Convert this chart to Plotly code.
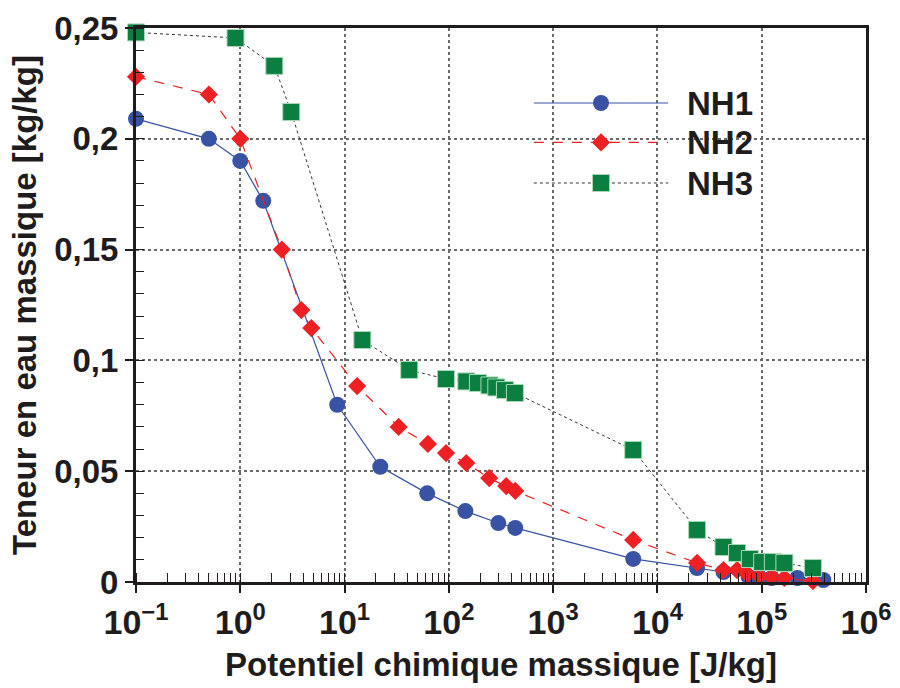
import plotly.graph_objects as go

# ---------------- data ----------------
nh1_x = [0.1, 0.5, 1.0, 1.66, 8.5, 22, 62, 144, 298, 433, 5860, 24000, 43000, 75000, 95000, 125000, 220000, 390000]
nh1_y = [0.209, 0.200, 0.190, 0.172, 0.080, 0.052, 0.040, 0.032, 0.0266, 0.0244, 0.0104, 0.0063, 0.0045, 0.0023, 0.0022, 0.0018, 0.0018, 0.0009]

nh2_x = [0.1, 0.5, 1.0, 2.5, 3.85, 4.8, 13.2, 33, 63, 94, 147, 244, 355, 433, 5860, 24000, 43000, 58000, 73000, 95000, 125000, 165000, 310000]
nh2_y = [0.228, 0.220, 0.200, 0.150, 0.1227, 0.1146, 0.0884, 0.070, 0.0623, 0.0582, 0.0537, 0.0469, 0.0433, 0.0411, 0.019, 0.0086, 0.0054, 0.0054, 0.0036, 0.0027, 0.0023, 0.0018, 0.0004]

nh3_x = [0.1, 0.9, 2.12, 3.08, 14.8, 41.7, 94, 147, 190, 245, 285, 345, 430, 5860, 24000, 43000, 58000, 77000, 101000, 128000, 165000, 310000]
nh3_y = [0.248, 0.2455, 0.2329, 0.2121, 0.1092, 0.0957, 0.0916, 0.0905, 0.0898, 0.0887, 0.0878, 0.0866, 0.0853, 0.0596, 0.0235, 0.0158, 0.0131, 0.0104, 0.0090, 0.0090, 0.0086, 0.0063]

series_names = ["NH1", "NH2", "NH3"]

x_tickvals = [0.1, 1, 10, 100, 1000, 10000, 100000, 1000000]
x_ticktext = ["10<sup>\u22121</sup>", "10<sup>0</sup>", "10<sup>1</sup>", "10<sup>2</sup>",
              "10<sup>3</sup>", "10<sup>4</sup>", "10<sup>5</sup>", "10<sup>6</sup>"]
y_tickvals = [0, 0.05, 0.1, 0.15, 0.2, 0.25]
y_ticktext = ["0", "0,05", "0,1", "0,15", "0,2", "0,25"]

# ---------------- styles ----------------
BLUE = "#3953a4"
RED = "#ee2024"
GREEN = "#0a7f3f"
INK = "#1f1c1d"
FONT = "Liberation Sans, Arial, sans-serif"

styles = [
    dict(line=dict(color=BLUE, width=1.2, dash="solid"),
         marker=dict(symbol="circle", size=16, color=BLUE, line=dict(width=0))),
    dict(line=dict(color=RED, width=1.2, dash="10px,9px"),
         marker=dict(symbol="diamond", size=14, color=RED, line=dict(width=0))),
    dict(line=dict(color="#333333", width=1, dash="dot"),
         marker=dict(symbol="square", size=17, color=GREEN, line=dict(width=1, color="#a9d8b8"))),
]

fig = go.Figure()
for name, xs, ys, st in zip(series_names, [nh1_x, nh2_x, nh3_x], [nh1_y, nh2_y, nh3_y], styles):
    fig.add_trace(go.Scatter(x=xs, y=ys, mode="lines+markers", name=name,
                             line=st["line"], marker=st["marker"],
                             cliponaxis=False, showlegend=False))

# custom legend on an overlay axis (0..1 paper-like coordinates)
leg_y = [0.8646, 0.7935, 0.7202]
leg_x0, leg_x1, leg_xm, leg_xt = 0.545, 0.729, 0.637, 0.752
for name, st, ly in zip(series_names, styles, leg_y):
    fig.add_trace(go.Scatter(x=[leg_x0, leg_x1], y=[ly, ly], mode="lines",
                             line=st["line"], xaxis="x2", yaxis="y2",
                             showlegend=False, hoverinfo="skip"))
    fig.add_trace(go.Scatter(x=[leg_xm], y=[ly], mode="markers",
                             marker=st["marker"], xaxis="x2", yaxis="y2",
                             showlegend=False, hoverinfo="skip"))
    fig.add_annotation(x=leg_xt, y=ly, xref="paper", yref="paper", text="<b>%s</b>" % name,
                       showarrow=False, xanchor="left", yanchor="middle",
                       font=dict(family=FONT, size=33, color=INK))

# white box behind legend (hides grid)
fig.add_shape(type="rect", xref="paper", yref="paper", x0=0.533, x1=0.855, y0=0.68, y1=0.935,
              fillcolor="white", line=dict(width=0), layer="below")

grid = dict(showgrid=True, gridcolor="#6a6a6a", gridwidth=1.6, griddash="dot")

fig.update_layout(
    width=900, height=688,
    margin=dict(l=136, r=34, t=28, b=106),
    paper_bgcolor="white", plot_bgcolor="white",
    font=dict(family=FONT, color=INK),
    xaxis=dict(type="log", range=[-1, 6], tickvals=x_tickvals, automargin=False,
               ticktext=["<b>%s</b>" % t for t in x_ticktext],
               tickfont=dict(family=FONT, size=34, color=INK),
               ticks="outside", ticklen=8, tickwidth=1.5, tickcolor=INK,
               minor=dict(ticks="inside", ticklen=9, tickwidth=1.2, tickcolor=INK, dtick="D1", showgrid=False),
               showline=True, linecolor=INK, linewidth=3, mirror=True,
               title=dict(text="<b>Potentiel chimique massique [J/kg]</b>", standoff=14,
                          font=dict(family=FONT, size=33, color=INK)),
               zeroline=False, **grid),
    yaxis=dict(range=[0, 0.25], tickvals=y_tickvals, automargin=False,
               ticktext=["<b>%s</b>" % t for t in y_ticktext],
               tickfont=dict(family=FONT, size=33, color=INK),
               ticks="outside", ticklen=8, tickwidth=1.5, tickcolor=INK,
               minor=dict(ticks="inside", ticklen=8, tickwidth=1.2, tickcolor=INK, dtick=0.01, showgrid=False),
               showline=True, linecolor=INK, linewidth=3, mirror=True,
               title=dict(text="<b>Teneur en eau massique [kg/kg]</b>", standoff=8,
                          font=dict(family=FONT, size=33, color=INK)),
               zeroline=False, **grid),
    xaxis2=dict(overlaying="x", range=[0, 1], visible=False, fixedrange=True),
    yaxis2=dict(overlaying="y", range=[0, 1], visible=False, fixedrange=True),
)

fig.write_html("out.html")
